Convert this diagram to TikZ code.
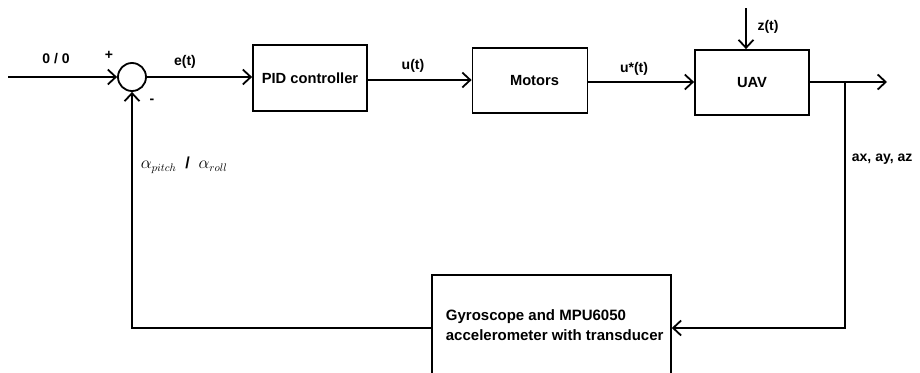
\documentclass[tikz,border=0pt]{standalone}
\usepackage{fontspec}
\setmainfont{Liberation Sans}
\usetikzlibrary{arrows.meta}
\begin{document}
\begin{tikzpicture}[x=1pt,y=-1pt,
  line width=1.8pt,
  arr/.style={-{Straight Barb[length=8pt,width=15pt,line width=1.8pt]}},
  blk/.style={draw,line width=1.8pt,font=\bfseries\fontsize{14.7}{17}\selectfont,inner sep=0pt},
  lbl/.style={font=\bfseries\fontsize{14}{16}\selectfont,inner sep=0pt}]
\useasboundingbox[fill=white] (0,0) rectangle (920,372);
\clip (0,0) rectangle (920,372);
\coordinate (in) at (8,77);
\node[draw,circle,minimum size=28pt,inner sep=0pt,line width=1.8pt] (sum) at (132,77) {};
\node[blk,minimum width=114pt,minimum height=66pt] (pid) at (310,78) {PID controller};
\node[blk,minimum width=115pt,minimum height=65pt] (mot) at (530,80.5) {\hspace*{9pt}Motors};
\node[blk,minimum width=114pt,minimum height=65pt] (uav) at (752,82.5) {UAV};
\node[draw,line width=1.8pt,minimum width=239pt,minimum height=130pt,anchor=north west] (gyro) at (431,274) {};
\node[font=\bfseries\fontsize{15}{20}\selectfont,align=left,anchor=west,inner sep=0pt] (gtext) at (445,325) {Gyroscope and MPU6050\\accelerometer with transducer};
\coordinate (zt) at (746,8);
\coordinate (br) at (845,82);
\coordinate (out) at (887,82);
\coordinate (brd) at (845,328);
\coordinate (fbl) at (132,328);
\draw[arr] (in) -- (sum.west);
\draw[arr] (sum.east) -- (pid.west |- sum);
\draw[arr] (pid.east |- 0,80) -- (mot.west |- 0,80);
\draw[arr] (mot.east |- 0,82) -- (uav.west |- 0,82);
\draw[arr] (zt) -- (uav.north -| zt);
\draw[arr] (uav.east |- br) -- (out);
\draw[arr] (br) -- (brd) -- (gyro.east |- brd);
\draw[arr] (gyro.west |- brd) -- (fbl) -- (sum.south);
\node[lbl] at (56,59) {0 / 0};
\node[lbl] at (109,55) {+};
\node[lbl] at (152,101) {-};
\node[lbl] at (185,62) {e(t)};
\node[lbl] at (413,66) {u(t)};
\node[lbl] at (634,69) {u*(t)};
\node[lbl] at (768,27) {z(t)};
\node[lbl,anchor=west] at (851,159) {ax, ay, az};
\node[anchor=west,inner sep=0pt,font=\fontsize{16}{18}\selectfont] at (140,165) {$\alpha_{pitch}$ \ \textbf{/} \ $\alpha_{roll}$};
\end{tikzpicture}
\end{document}
